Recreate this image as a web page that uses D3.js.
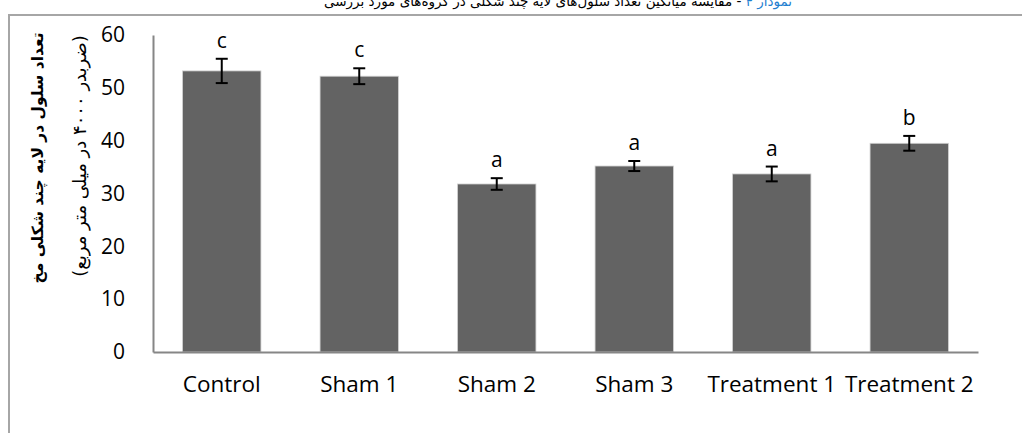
<!DOCTYPE html>
<html><head><meta charset="utf-8">
<script src="https://cdn.jsdelivr.net/npm/d3@7"></script>
<style>body{margin:0;background:#fff;}svg{display:block;}</style>
</head><body>
<svg id="chart" width="1022" height="433"></svg>
<script>
const categories = ["Control","Sham 1","Sham 2","Sham 3","Treatment 1","Treatment 2"];
const means = [53.2, 52.2, 31.8, 35.2, 33.7, 39.5];
const errors = [2.3, 1.5, 1.1, 0.95, 1.4, 1.4];
const letters = ["c","c","a","a","a","b"];
const yTicks = [0,10,20,30,40,50,60];
const titleBlue = "نمودار ۴";
const titleText = " - مقایسه میانگین تعداد سلول‌های لایه چند شکلی در گروه‌های مورد بررسی";
const yTitle1 = "تعداد سلول در لایه چند شکلی مخ";
const yTitle2 = "(ضربدر ۴۰۰۰ در میلی متر مربع)";

const svg = d3.select("#chart");
const m = {left:153, right:1022-978, top:35, bottom:433-352};
const W = 1022, H = 433;

// outer frame
svg.append("path").attr("d", `M9,433 V15 H1022`).attr("fill","none")
  .attr("stroke","#a6a6a6").attr("stroke-width",2);

// clipped title (cut at top edge as in the reference)
const t = svg.append("text").attr("x",558).attr("y",6).attr("text-anchor","middle")
  .attr("direction","rtl").attr("font-family","DejaVu Sans").attr("font-size",13.5);
t.append("tspan").attr("fill","#1f7fd0").text(titleBlue);
t.append("tspan").attr("fill","#000").text(titleText);

const x = d3.scaleBand().domain(categories).range([m.left, W-m.right]).paddingInner(0.43).paddingOuter(0.215);
const y = d3.scaleLinear().domain([0,60]).range([H-m.bottom, m.top]);

// bars
svg.append("g").selectAll("rect").data(categories).join("rect")
  .attr("x", d=>x(d)).attr("width", x.bandwidth())
  .attr("y", (d,i)=>y(means[i])).attr("height", (d,i)=>y(0)-y(means[i]))
  .attr("fill","#636363").attr("stroke","#d0d0d0").attr("stroke-width",0.8);

// error bars
const eg = svg.append("g").attr("stroke","#000").attr("stroke-width",2);
categories.forEach((c,i)=>{
  const cx = x(c)+x.bandwidth()/2;
  const y1 = y(means[i]+errors[i]), y2 = y(means[i]-errors[i]);
  eg.append("line").attr("x1",cx).attr("x2",cx).attr("y1",y1).attr("y2",y2);
  eg.append("line").attr("x1",cx-6).attr("x2",cx+6).attr("y1",y1).attr("y2",y1);
  eg.append("line").attr("x1",cx-6).attr("x2",cx+6).attr("y1",y2).attr("y2",y2);
});

// letters
svg.append("g").selectAll("text").data(categories).join("text")
  .attr("x", d=>x(d)+x.bandwidth()/2)
  .attr("y", (d,i)=>y(means[i]+errors[i])-11)
  .attr("text-anchor","middle").attr("font-family","Open Sans").attr("font-size",21)
  .attr("fill","#000").text((d,i)=>letters[i]);

// axes
const yAxis = d3.axisLeft(y).tickValues(yTicks).tickSize(0).tickPadding(28);
const gy = svg.append("g").attr("transform",`translate(${m.left},0)`).call(yAxis);
gy.select(".domain").attr("stroke","#868686").attr("stroke-width",2);
gy.selectAll("text").attr("font-family","Open Sans").attr("font-size",21).attr("fill","#000");

const xAxis = d3.axisBottom(x).tickSize(0).tickPadding(24);
const gx = svg.append("g").attr("transform",`translate(0,${H-m.bottom})`).call(xAxis);
gx.select(".domain").attr("stroke","#868686").attr("stroke-width",2);
gx.selectAll("text").attr("font-family","Open Sans").attr("font-size",22.5).attr("fill","#000");

// y titles
svg.append("text").attr("transform","translate(43,158) rotate(-90)")
  .attr("text-anchor","middle").attr("direction","rtl").attr("font-family","DejaVu Sans")
  .attr("font-weight","bold").attr("font-size",15.5).attr("fill","#000").text(yTitle1);
svg.append("text").attr("transform","translate(86,156) rotate(-90)")
  .attr("text-anchor","middle").attr("direction","rtl").attr("font-family","DejaVu Sans")
  .attr("font-size",18).attr("fill","#000").text(yTitle2);
</script>
</body></html>
